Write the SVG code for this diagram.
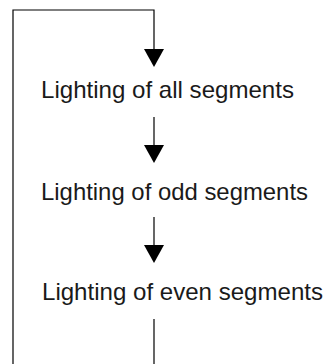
<svg xmlns="http://www.w3.org/2000/svg" width="326" height="364" viewBox="0 0 326 364">
<style>
.c{fill:none;stroke:#000;stroke-width:1.2}
.h{fill:#000;stroke:none}
.t{font-family:"Liberation Sans",Arial,sans-serif;font-size:24px;fill:#1a1a1a}
</style>
<rect width="326" height="364" fill="#fff"/>
<g id="connectors">
<polyline class="c" points="154,49 154,10 13,10 13,364"/>
<polygon class="h" points="144,49 164,49 154,67"/>
<line class="c" x1="154" y1="117" x2="154" y2="145"/>
<polygon class="h" points="144,145 164,145 154,163"/>
<line class="c" x1="154" y1="217" x2="154" y2="245"/>
<polygon class="h" points="144,245 164,245 154,263"/>
<line class="c" x1="154" y1="319" x2="154" y2="364"/>
</g>
<g id="node-all"><text class="t" x="41" y="98" textLength="253" lengthAdjust="spacingAndGlyphs">Lighting of all segments</text></g>
<g id="node-odd"><text class="t" x="41" y="200" textLength="267" lengthAdjust="spacingAndGlyphs">Lighting of odd segments</text></g>
<g id="node-even"><text class="t" x="42" y="300" textLength="281" lengthAdjust="spacingAndGlyphs">Lighting of even segments</text></g>
</svg>
